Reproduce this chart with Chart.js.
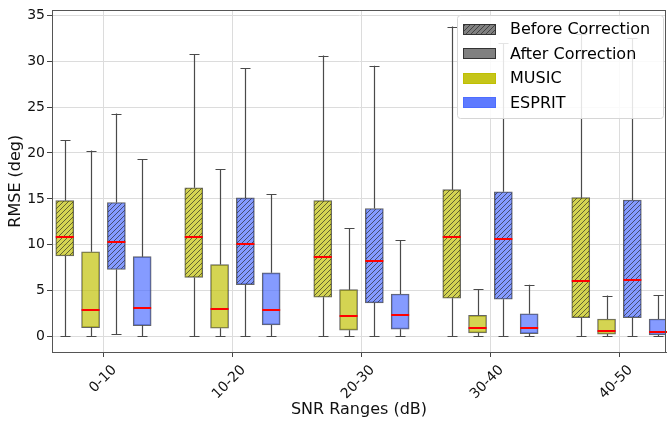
<!DOCTYPE html>
<html>
<head>
<meta charset="utf-8">
<script src="https://cdn.jsdelivr.net/npm/chart.js@4.4.1/dist/chart.umd.min.js"></script>
<style>
  html, body { margin: 0; padding: 0; background: #fff; }
</style>
</head>
<body>
<canvas id="myChart" width="667" height="422"></canvas>
<script>
const snrRanges = ['0-10', '10-20', '20-30', '30-40', '40-50']
// one row per SNR range: [whisker low, q1, median, q3, whisker high]
const musicBefore = [[0, 8.77, 10.82, 14.81, 21.4], [0, 6.44, 10.82, 16.21, 30.8], [0, 4.28, 8.7, 14.81, 30.62], [0, 4.17, 10.82, 16.0, 33.78], [0, 2.05, 6.08, 15.13, 33.0]]
const musicAfter = [[0, 0.97, 2.88, 9.24, 20.27], [0, 0.9, 2.95, 7.84, 18.22], [0, 0.69, 2.23, 5.1, 11.79], [0, 0.4, 0.97, 2.31, 5.14], [0, 0.26, 0.61, 1.91, 4.46]]
const espritBefore = [[0.25, 7.3, 10.35, 14.6, 24.3], [0, 5.65, 10.03, 15.1, 29.25], [0, 3.67, 8.27, 13.95, 29.5], [0, 4.06, 10.67, 15.78, 32.0], [0, 2.05, 6.14, 14.88, 32.5]]
const espritAfter = [[0, 1.19, 3.06, 8.7, 19.34], [0, 1.26, 2.88, 6.94, 15.49], [0, 0.8, 2.37, 4.63, 10.5], [0, 0.32, 0.97, 2.48, 5.65], [0, 0.18, 0.51, 1.91, 4.5]]
const yTicks = [0, 5, 10, 15, 20, 25, 30, 35]

const FONT = "'DejaVu Sans', sans-serif"
const musicBox = 'rgba(191,191,0,0.68)'
const espritBox = 'rgba(75,108,255,0.68)'
const edge = 'rgba(50,50,50,0.75)'

// diagonal hatch, like matplotlib '///'
function hatch(fill) {
    let s = 5
    let c = document.createElement('canvas')
    c.width = s; c.height = s
    let g = c.getContext('2d')
    g.fillStyle = fill
    g.fillRect(0, 0, s, s)
    g.strokeStyle = 'rgba(30,30,30,0.7)'
    g.lineWidth = 0.9
    g.beginPath()
    g.moveTo(0, s); g.lineTo(s, 0)
    g.moveTo(-1, 1); g.lineTo(1, -1)
    g.moveTo(s - 1, s + 1); g.lineTo(s + 1, s - 1)
    g.stroke()
    return g.createPattern(c, 'repeat')
}

const series = [
    { label: 'MUSIC before', stats: musicBefore, off: -0.3, fill: hatch(musicBox) },
    { label: 'MUSIC after', stats: musicAfter, off: -0.1, fill: musicBox },
    { label: 'ESPRIT before', stats: espritBefore, off: 0.1, fill: hatch(espritBox) },
    { label: 'ESPRIT after', stats: espritAfter, off: 0.3, fill: espritBox },
]

const boxWidth = 18

const boxPlugin = {
    id: 'boxParts',
    beforeDatasetsDraw(chart) {
        const { ctx, scales: { x, y } } = chart
        ctx.save()
        ctx.strokeStyle = '#4a4a4a'
        ctx.lineWidth = 1.2
        for (let s of series) {
            s.stats.forEach((st, i) => {
                let px = Math.round(x.getPixelForValue(i + s.off)) + 0.5
                let lo = y.getPixelForValue(st[0]), q1 = y.getPixelForValue(st[1])
                let q3 = y.getPixelForValue(st[3]), hi = y.getPixelForValue(st[4])
                ctx.beginPath()
                ctx.moveTo(px, q1); ctx.lineTo(px, lo)
                ctx.moveTo(px, q3); ctx.lineTo(px, hi)
                ctx.moveTo(px - 5, Math.round(lo) + 0.5); ctx.lineTo(px + 5, Math.round(lo) + 0.5)
                ctx.moveTo(px - 5, Math.round(hi) + 0.5); ctx.lineTo(px + 5, Math.round(hi) + 0.5)
                ctx.stroke()
            })
        }
        ctx.restore()
    },
    afterDatasetsDraw(chart) {
        const { ctx, scales: { x, y }, chartArea: a } = chart
        ctx.save()
        ctx.strokeStyle = '#ff0000'
        ctx.lineWidth = 2
        for (let s of series) {
            s.stats.forEach((st, i) => {
                let px = x.getPixelForValue(i + s.off)
                let md = Math.round(y.getPixelForValue(st[2]))
                ctx.beginPath()
                ctx.moveTo(px - boxWidth / 2, md); ctx.lineTo(px + boxWidth / 2, md)
                ctx.stroke()
            })
        }
        // frame (top / right spines)
        ctx.strokeStyle = '#555'
        ctx.lineWidth = 1
        ctx.strokeRect(Math.round(a.left) + 0.5, Math.round(a.top) + 0.5, Math.round(a.right - a.left) - 1, Math.round(a.bottom - a.top))
        ctx.restore()
    },
    afterDraw(chart) {
        const ctx = chart.ctx
        ctx.save()
        // legend box
        let lx = 457.5, ly = 15.5, lw = 206, lh = 103
        ctx.fillStyle = 'rgba(255,255,255,0.85)'
        ctx.strokeStyle = '#d6d6d6'
        ctx.lineWidth = 1
        ctx.beginPath()
        ctx.roundRect(lx, ly, lw, lh, 3)
        ctx.fill(); ctx.stroke()
        const items = [
            { text: 'Before Correction', fill: hatch('#808080'), stroke: '#333' },
            { text: 'After Correction', fill: '#808080', stroke: '#333' },
            { text: 'MUSIC', fill: 'rgba(191,191,0,0.9)', stroke: 'rgba(191,191,0,0.9)' },
            { text: 'ESPRIT', fill: 'rgba(75,108,255,0.9)', stroke: 'rgba(75,108,255,0.9)' },
        ]
        ctx.font = '16px ' + FONT
        ctx.textBaseline = 'middle'
        items.forEach((it, k) => {
            let cy = 29 + k * 24.6
            ctx.fillStyle = it.fill
            ctx.fillRect(463, Math.round(cy - 5.5), 33, 11)
            ctx.strokeStyle = it.stroke
            ctx.strokeRect(463.5, Math.round(cy - 5.5) + 0.5, 32, 10)
            ctx.fillStyle = '#000'
            ctx.fillText(it.text, 510, cy + 1)
        })
        ctx.restore()
    }
}

const ctx = document.getElementById('myChart').getContext('2d')
const myChart = new Chart(ctx, {
    type: 'bar',
    data: {
        datasets: series.map(s => ({
            label: s.label,
            data: s.stats.map((st, i) => ({ x: i + s.off, y: [st[1], st[3]] })),
            backgroundColor: s.fill,
            borderColor: edge,
            borderWidth: 1,
            borderSkipped: false,
            barThickness: boxWidth,
            grouped: false,
        }))
    },
    options: {
        responsive: false,
        animation: false,
        layout: { padding: { top: 7, right: 1, left: 0, bottom: 0 } },
        plugins: { legend: { display: false }, tooltip: { enabled: false } },
        scales: {
            x: {
                type: 'linear',
                offset: false,
                min: -0.399,
                max: 4.361,
                afterBuildTicks: (scale) => { scale.ticks = snrRanges.map((_, i) => ({ value: i })) },
                afterFit: (scale) => { scale.height = 70 },
                ticks: {
                    callback: (v) => snrRanges[v],
                    minRotation: 45,
                    maxRotation: 45,
                    labelOffset: 11,
                    padding: 5,
                    color: '#111',
                    font: { family: FONT, size: 14 },
                },
                grid: { offset: false, color: '#dcdcdc', tickColor: '#444', tickLength: 5 },
                border: { color: '#555' },
                title: { display: true, text: 'SNR Ranges (dB)', color: '#111', font: { family: FONT, size: 16 }, padding: { top: 0, bottom: 3 } },
            },
            y: {
                min: -1.69,
                max: 35.54,
                afterBuildTicks: (scale) => { scale.ticks = yTicks.map(v => ({ value: v })) },
                afterFit: (scale) => { scale.width = 52 },
                ticks: { color: '#111', padding: 2, font: { family: FONT, size: 14 } },
                grid: { color: '#dcdcdc', tickColor: '#444', tickLength: 5 },
                border: { color: '#555' },
                title: { display: true, text: 'RMSE (deg)', color: '#111', font: { family: FONT, size: 16 }, padding: { top: 6, bottom: 0 } },
            }
        }
    },
    plugins: [boxPlugin]
})
</script>
</body>
</html>
